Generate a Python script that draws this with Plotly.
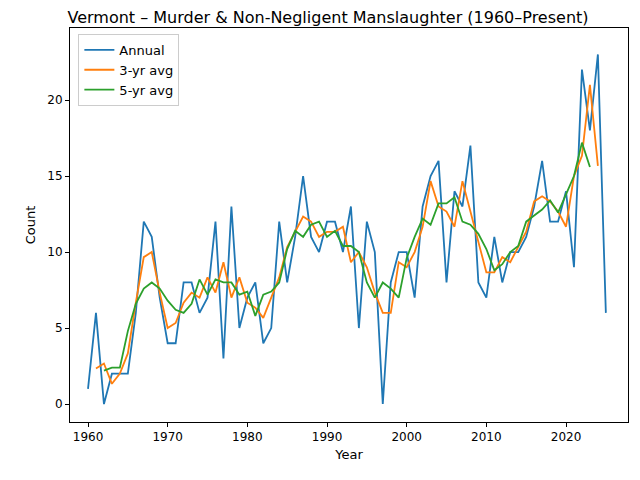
import pandas as pd
import plotly.graph_objects as go

years = list(range(1960, 2026))
annual = [1, 6, 0, 2, 2, 2, 6, 12, 11, 7, 4, 4, 8, 8, 6, 7, 12, 3, 13, 5,
          7, 8, 4, 5, 12, 8, 11, 15, 11, 10, 12, 12, 10, 13, 5, 12, 10, 0, 8, 10,
          10, 7, 13, 15, 16, 8, 14, 13, 17, 8, 7, 11, 8, 10, 10, 11, 13, 16, 12, 12,
          14, 9, 22, 18, 23, 6]

s = pd.Series(annual, index=years, dtype=float)
avg3 = s.rolling(3, center=True).mean()
avg5 = s.rolling(5, center=True).mean()

fig = go.Figure()
for name, y, c in [("Annual", s, "#1f77b4"), ("3-yr avg", avg3, "#ff7f0e"), ("5-yr avg", avg5, "#2ca02c")]:
    fig.add_trace(go.Scatter(x=years, y=y.values, mode="lines", name=name,
                             line=dict(color=c, width=1.8)))

axis_common = dict(showgrid=False, zeroline=False, showline=True, mirror=True,
                   linecolor="black", linewidth=1, ticks="outside", ticklen=4,
                   tickcolor="black", tickfont=dict(size=12, color="black"))
fig.update_layout(
    width=640, height=480,
    margin=dict(l=62, r=20, t=20, b=66),
    paper_bgcolor="white", plot_bgcolor="white",
    font=dict(family="DejaVu Sans", color="black"),
    title=dict(text="Vermont – Murder & Non-Negligent Manslaughter (1960–Present)",
               x=0.5, xanchor="center", y=0.992, yanchor="top", font=dict(size=16)),
    xaxis=dict(range=[1957.74, 2027.78], tickvals=[1960, 1970, 1980, 1990, 2000, 2010, 2020],
               title=dict(text="Year", font=dict(size=13), standoff=6), **axis_common),
    yaxis=dict(range=[-1.18, 24.74], tickvals=[0, 5, 10, 15, 20],
               title=dict(text="Count", font=dict(size=13), standoff=8), **axis_common),
    legend=dict(x=0.015, y=0.985, xanchor="left", yanchor="top", bgcolor="rgba(255,255,255,0.8)",
                bordercolor="#cccccc", borderwidth=1, font=dict(size=13)),
)
fig.write_html("out.html")
